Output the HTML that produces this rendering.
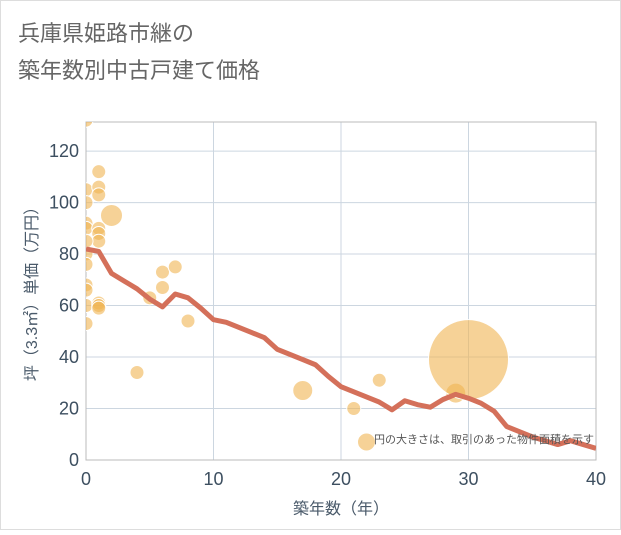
<!DOCTYPE html>
<html><head><meta charset="utf-8"><style>
body{margin:0;background:#fff;}
svg text{font-family:"Liberation Sans","Noto Sans CJK JP",sans-serif;}
</style></head><body>
<svg width="621" height="530">
<defs><clipPath id="pc"><rect x="86" y="122" width="510" height="338"/></clipPath></defs>
<rect x="0.5" y="0.5" width="620" height="529" fill="#fff" stroke="#ddd"/>
<text x="18" y="41" font-size="22" fill="#666">兵庫県姫路市継の</text>
<text x="18" y="78" font-size="22" fill="#666">築年数別中古戸建て価格</text>
<g id="grid"></g>
<g id="bubbles" clip-path="url(#pc)"></g>
<g id="line" clip-path="url(#pc)"></g>
<g id="axes"></g>
<text x="594" y="443" font-size="11" fill="#555" text-anchor="end">円の大きさは、取引のあった物件面積を示す</text>
<text x="341" y="514" font-size="16" fill="#4a5a6a" text-anchor="middle">築年数（年）</text>
<text transform="translate(37,290) rotate(-90)" font-size="16" fill="#4a5a6a" text-anchor="middle">坪（3.3㎡）単価（万円）</text>
</svg>
<script>
const xTicks=[0,10,20,30,40];
const yTicks=[0,20,40,60,80,100,120];
const lineYears=[0,1,2,3,4,5,6,7,8,9,10,11,12,13,14,15,16,17,18,19,20,21,22,23,24,25,26,27,28,29,30,31,32,33,34,35,36,37,38,39,40];
const lineValues=[82,81,72.5,69.5,66.5,62.5,59.5,64.5,63,59,54.5,53.5,51.5,49.5,47.5,43,41,39,37,32.5,28.5,26.5,24.5,22.5,19.5,23,21.5,20.5,23.5,25.5,24,22,19,13,11,9,7.5,6,7.5,6,4.5];
const bubbleX=[0,0,1,1,1,2,0,0,0,1,1,1,0,0,0,0,0,0,0,1,1,1,4,5,6,6,7,8,17,21,22,23,29,30];
const bubbleY=[132,105,112,106,103,95,100,92,90,90,88,85,85,80,76,68,66,60,53,61,60,59,34,63,73,67,75,54,27,20,7,31,26,39];
const bubbleR=[7,7,7,7,7,11,7,7,7,7,7,7,7,7,7,7,7,7,7,7,7,7,7,7,7,7,7,7,10,7,9,7,10,40];
const X0=86,X1=596,Y0=460,YT=122,XMAX=40,YMAX=131.3;
const sx=v=>X0+v/XMAX*(X1-X0);
const sy=v=>Y0-v/YMAX*(Y0-YT);
const NS="http://www.w3.org/2000/svg";
function mk(t,a,p){const e=document.createElementNS(NS,t);for(const k in a)e.setAttribute(k,a[k]);p.appendChild(e);return e;}
const grid=document.getElementById('grid');
xTicks.forEach(t=>{const l=mk('line',{x1:sx(t),x2:sx(t),y1:YT,y2:Y0,stroke:'#ccd6e0','stroke-width':1},grid);

});
yTicks.forEach(t=>{const l=mk('line',{x1:X0,x2:X1,y1:sy(t),y2:sy(t),stroke:'#ccd6e0','stroke-width':1},grid);

});
const fr=mk('rect',{x:X0,y:YT,width:X1-X0,height:Y0-YT,fill:'none',stroke:'#bbb'},grid);


const bg=document.getElementById('bubbles');
bubbleX.forEach((x,i)=>{const c=mk('circle',{cx:sx(x),cy:sy(bubbleY[i]),r:bubbleR[i],fill:'#f0b451','fill-opacity':0.6,stroke:'#fff','stroke-width':1},bg);

});
const pts=lineYears.map((x,i)=>sx(x)+','+sy(lineValues[i])).join(' ');
const pl=mk('polyline',{points:pts,fill:'none',stroke:'#d4705a','stroke-width':5,'stroke-linejoin':'round'},document.getElementById('line'));


const ax=document.getElementById('axes');
xTicks.forEach(t=>{const e=mk('text',{x:sx(t),y:485,'font-size':18,fill:'#3d4f60','text-anchor':'middle'},ax);e.textContent=t;

});
yTicks.forEach(t=>{const e=mk('text',{x:79,y:sy(t)+6,'font-size':18,fill:'#3d4f60','text-anchor':'end'},ax);e.textContent=t;

});
</script>
</body></html>
